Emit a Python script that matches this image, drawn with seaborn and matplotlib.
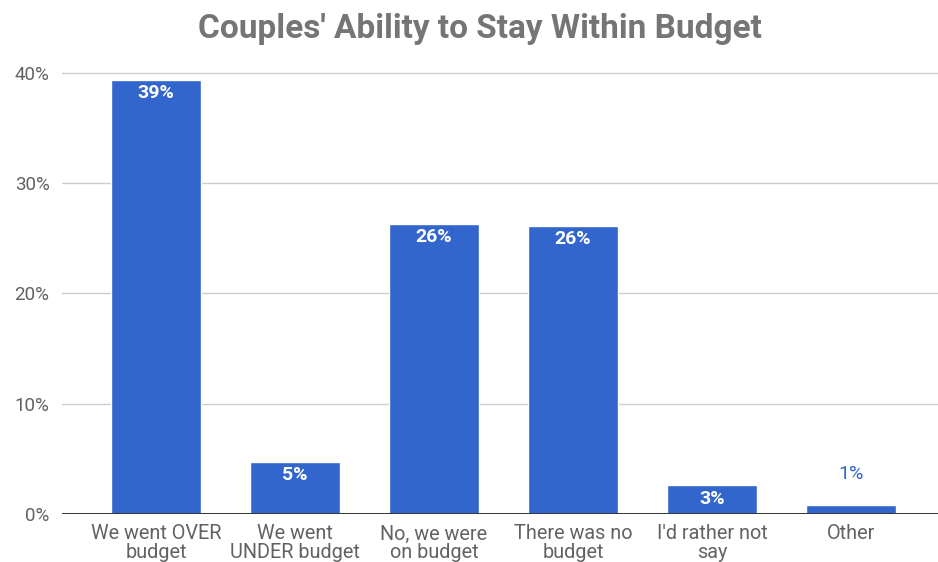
import matplotlib
matplotlib.use("Agg")
import matplotlib.pyplot as plt
import seaborn as sns
import pandas as pd

# Survey answers and the share of couples giving each one (percent)
categories = [
    "We went OVER\nbudget",
    "We went\nUNDER budget",
    "No, we were\non budget",
    "There was no\nbudget",
    "I'd rather not\nsay",
    "Other",
]
shares = [39.4, 4.7, 26.3, 26.1, 2.6, 0.8]
y_ticks = [0, 10, 20, 30, 40]
y_tick_labels = ["0%", "10%", "20%", "30%", "40%"]
title = "Couples' Ability to Stay Within Budget"

bar_color = "#3366CC"
text_gray = "#626262"

sns.set_theme(style="white")
plt.rcParams["font.family"] = ["Roboto", "DejaVu Sans"]

df = pd.DataFrame({"answer": categories, "share": shares})

fig = plt.figure(figsize=(9.38, 5.62), dpi=100)
ax = fig.add_axes([0.0661, 0.0854, 0.9339, 0.7946])

sns.barplot(data=df, x="answer", y="share", color=bar_color,
            saturation=1, width=0.647, ax=ax, zorder=3)

ax.set_xlim(-0.676, 5.626)
ax.set_ylim(0, 40.5)
ax.set_yticks(y_ticks)
ax.set_yticklabels(y_tick_labels)
ax.set_xlabel("")
ax.set_ylabel("")

for s in ax.spines.values():
    s.set_visible(False)
ax.axhline(0, color="#333333", linewidth=1.4, zorder=4)
for t in y_ticks[1:]:
    ax.axhline(t, color="#cccccc", linewidth=1.0, zorder=1)

ax.tick_params(axis="y", length=0, pad=9, labelsize=13.5, labelcolor=text_gray)
ax.tick_params(axis="x", length=0, pad=7.5, labelsize=14.3, labelcolor=text_gray)
for lab in ax.get_xticklabels():
    lab.set_linespacing(1.0)

# Value labels: inside the bar top when there is room, above it otherwise
for patch, v in zip(ax.patches, shares):
    cx = patch.get_x() + patch.get_width() / 2
    label = f"{v:.0f}%"
    if v >= 2:
        ax.annotate(label, (cx, v), xytext=(0, -3), textcoords="offset points",
                    ha="center", va="top", color="white",
                    fontsize=14, fontweight="bold", zorder=5)
    else:
        ax.annotate(label, (cx, v), xytext=(0, 16), textcoords="offset points",
                    ha="center", va="bottom", color=bar_color,
                    fontsize=14, zorder=5)

fig.text(0.512, 0.949, title, ha="center", va="center",
         fontsize=24, fontweight="bold", color="#757575")

fig.savefig("out.png", dpi=100)
